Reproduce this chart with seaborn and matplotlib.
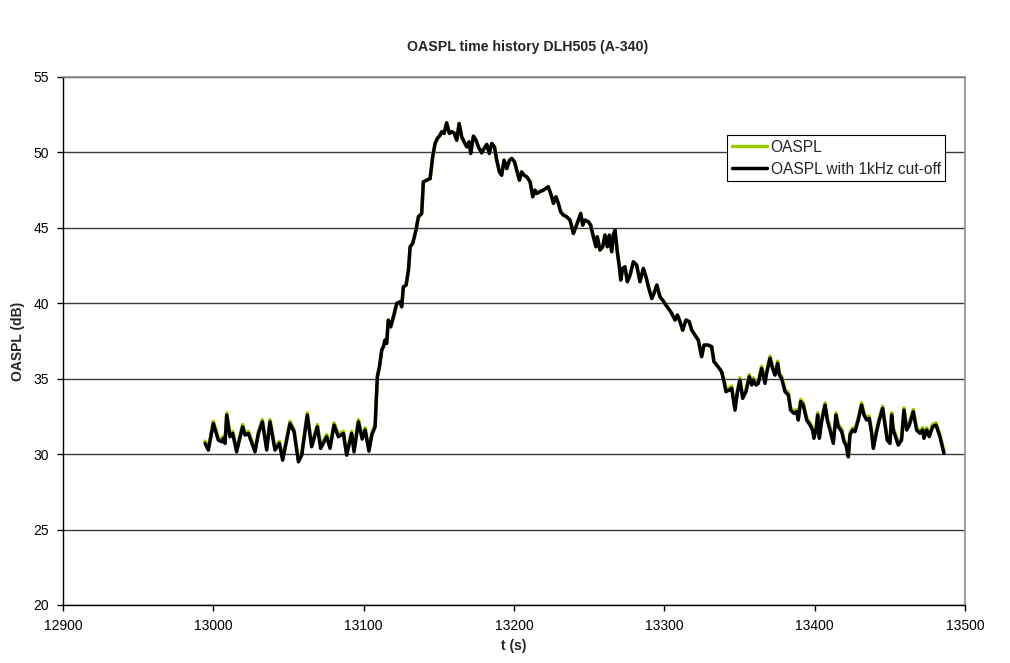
import matplotlib
matplotlib.use("Agg")
import matplotlib.pyplot as plt
import seaborn as sns
import pandas as pd

# Time stamps of the overflight record (s)
t_s = [
    12994.5, 12996.7, 13000.0, 13003.3, 13005.6, 13006.7, 13007.8, 13008.9, 13011.1, 13012.9,
    13015.5, 13017.3, 13019.5, 13021.1, 13023.3, 13027.7, 13030.0, 13032.6, 13035.5, 13037.7,
    13041.0, 13043.9, 13046.1, 13051.0, 13053.7, 13056.6, 13058.8, 13062.5, 13065.4, 13069.2,
    13071.4, 13075.4, 13077.6, 13080.3, 13083.2, 13086.5, 13088.7, 13092.0, 13093.6, 13096.5,
    13099.0, 13101.0, 13103.5, 13105.5, 13107.6,
    13109.1, 13110.5, 13112.0, 13113.1, 13114.2, 13115.3, 13116.4, 13118.0, 13119.8, 13122.0,
    13124.2, 13125.3, 13126.4, 13128.2, 13129.8, 13130.9, 13132.6, 13134.8, 13136.4, 13138.6,
    13139.7, 13141.9, 13144.2, 13145.9, 13147.5, 13149.0, 13150.8, 13151.9, 13153.5, 13155.2,
    13157.0, 13158.6, 13160.1, 13161.9, 13163.5, 13165.2, 13167.4, 13168.6, 13170.1, 13171.2,
    13173.0, 13174.8, 13176.3, 13178.5, 13180.1, 13181.9, 13183.6, 13185.2, 13187.0, 13188.5,
    13190.3, 13191.8, 13193.4, 13195.2, 13197.0, 13198.5, 13200.3, 13201.8, 13203.6, 13205.1,
    13206.7, 13208.5, 13210.7, 13212.5, 13214.0, 13215.1,
    13217.3, 13219.5, 13222.8, 13225.1, 13226.2, 13227.9, 13229.5, 13231.0, 13232.8, 13235.0,
    13237.3, 13239.5, 13241.2, 13242.8, 13244.4, 13245.7, 13247.2, 13249.5, 13251.0, 13252.8,
    13254.5, 13255.4, 13257.2, 13259.0, 13260.5, 13262.1, 13263.4, 13265.0, 13266.1, 13267.2,
    13268.7, 13270.1, 13271.0, 13272.3, 13273.8, 13275.4, 13277.2, 13279.4, 13281.6, 13283.8,
    13286.0, 13287.8, 13289.4, 13291.6, 13293.1, 13295.0, 13297.1, 13298.9, 13301.1, 13302.7,
    13304.9, 13307.1, 13308.7, 13310.4, 13312.2, 13314.4, 13316.6, 13318.2, 13320.4, 13322.6,
    13324.8, 13326.4, 13329.2, 13331.5, 13333.0, 13334.8, 13336.6, 13338.1,
    13339.7, 13341.0, 13343.2, 13344.8, 13347.0, 13348.5, 13350.3, 13352.1, 13354.3, 13356.5,
    13358.1, 13359.2, 13361.0, 13362.5, 13364.7, 13367.0, 13368.0, 13370.3, 13372.0, 13373.6,
    13375.4, 13376.5, 13378.0, 13380.3, 13382.5, 13384.0, 13386.2, 13388.0, 13389.1, 13390.7,
    13392.4, 13394.7, 13396.9, 13398.6, 13399.5, 13400.9, 13402.0, 13403.1, 13404.6, 13406.9,
    13408.4, 13410.2, 13412.4, 13414.2, 13415.7, 13418.0, 13419.5, 13420.8, 13422.4, 13423.5,
    13425.3, 13426.8, 13429.0, 13431.2, 13432.8, 13434.6, 13436.3, 13437.9, 13439.0, 13441.2,
    13443.0, 13445.2, 13446.8, 13448.3, 13450.1, 13451.2, 13452.3, 13454.1, 13455.6, 13457.8,
    13459.4, 13461.2, 13463.0, 13465.6, 13467.8, 13470.0, 13471.8, 13472.7, 13474.5, 13476.2,
    13478.5, 13480.7, 13483.3, 13486.0,
]

# Overall sound pressure level, full band (dB)
oaspl = [
    30.86, 30.42, 32.18, 31.08, 30.97, 31.19, 30.86, 32.74, 31.30, 31.52,
    30.30, 31.08, 31.96, 31.41, 31.52, 30.30, 31.52, 32.29, 30.42, 32.29,
    30.42, 30.86, 29.75, 32.18, 31.63, 29.64, 30.08, 32.74, 30.64, 31.96,
    30.53, 31.30, 30.53, 32.07, 31.30, 31.52, 30.08, 31.52, 30.30, 32.29,
    31.15, 31.75, 30.35, 31.45, 31.96,
    35.13, 35.79, 36.89, 37.11, 37.56, 37.34, 38.88, 38.44, 39.10, 39.99,
    40.10, 39.77, 41.09, 41.20, 42.20, 43.74, 43.96, 44.85, 45.73, 45.95,
    48.05, 48.16, 48.27, 49.71, 50.59, 50.92, 51.14, 51.37, 51.26, 51.96,
    51.26, 51.37, 51.30, 50.81, 51.92, 51.03, 50.59, 50.37, 50.70, 49.93,
    51.08, 50.81, 50.37, 49.97, 50.26, 50.53, 49.93, 50.59, 50.37, 49.49,
    48.71, 48.49, 49.49, 48.93, 49.49, 49.60, 49.38, 48.82, 48.16, 48.71,
    48.49, 48.38, 48.05, 47.06, 47.50, 47.28,
    47.40, 47.50, 47.72, 47.06, 46.62, 47.06, 46.62, 46.07, 45.85, 45.74,
    45.51, 44.63, 45.07, 45.51, 45.96, 45.18, 45.51, 45.40, 45.18, 44.41,
    43.75, 44.41, 43.53, 43.75, 44.52, 43.75, 44.52, 43.42, 44.52, 44.85,
    43.42, 42.42, 41.54, 42.31, 42.42, 41.43, 41.87, 42.75, 42.53, 41.43,
    42.31, 41.76, 41.10, 40.32, 40.65, 41.21, 40.43, 40.21, 39.88, 39.66,
    39.33, 38.89, 39.22, 38.78, 38.22, 38.89, 38.78, 38.22, 37.89, 37.56,
    36.46, 37.23, 37.23, 37.12, 36.13, 35.91, 35.68, 35.46,
    34.95, 34.29, 34.40, 34.51, 33.07, 34.18, 35.06, 33.85, 34.29, 35.28,
    34.73, 35.06, 34.73, 34.84, 35.83, 34.84, 35.50, 36.50, 35.83, 35.39,
    36.17, 35.39, 35.17, 34.29, 34.07, 33.07, 32.85, 32.96, 32.41, 33.63,
    33.40, 32.41, 32.08, 31.75, 31.20, 31.75, 32.74, 31.20, 32.30, 33.40,
    32.41, 31.75, 30.86, 32.74, 31.97, 31.64, 30.97, 30.75, 29.97, 31.42,
    31.75, 31.64, 32.41, 33.40, 32.74, 32.41, 32.52, 31.53, 30.53, 31.64,
    32.41, 33.18, 32.08, 31.08, 30.86, 32.74, 31.75, 31.20, 30.75, 31.08,
    33.07, 31.75, 32.08, 32.96, 31.75, 31.53, 31.75, 31.20, 31.75, 31.31,
    31.97, 32.08, 31.31, 30.20,
]

# Overall sound pressure level with 1 kHz cut-off (dB)
oaspl_1khz = [
    30.71, 30.27, 32.03, 30.93, 30.82, 31.04, 30.71, 32.59, 31.15, 31.37,
    30.15, 30.93, 31.81, 31.26, 31.37, 30.15, 31.37, 32.14, 30.27, 32.14,
    30.27, 30.71, 29.60, 32.03, 31.48, 29.49, 29.93, 32.59, 30.49, 31.81,
    30.38, 31.15, 30.38, 31.92, 31.15, 31.37, 29.93, 31.37, 30.15, 32.14,
    31.00, 31.60, 30.20, 31.30, 31.81,
    35.13, 35.79, 36.89, 37.11, 37.56, 37.34, 38.88, 38.44, 39.10, 39.99,
    40.10, 39.77, 41.09, 41.20, 42.20, 43.74, 43.96, 44.85, 45.73, 45.95,
    48.05, 48.16, 48.27, 49.71, 50.59, 50.92, 51.14, 51.37, 51.26, 51.96,
    51.26, 51.37, 51.30, 50.81, 51.92, 51.03, 50.59, 50.37, 50.70, 49.93,
    51.08, 50.81, 50.37, 49.97, 50.26, 50.53, 49.93, 50.59, 50.37, 49.49,
    48.71, 48.49, 49.49, 48.93, 49.49, 49.60, 49.38, 48.82, 48.16, 48.71,
    48.49, 48.38, 48.05, 47.06, 47.50, 47.28,
    47.40, 47.50, 47.72, 47.06, 46.62, 47.06, 46.62, 46.07, 45.85, 45.74,
    45.51, 44.63, 45.07, 45.51, 45.96, 45.18, 45.51, 45.40, 45.18, 44.41,
    43.75, 44.41, 43.53, 43.75, 44.52, 43.75, 44.52, 43.42, 44.52, 44.85,
    43.42, 42.42, 41.54, 42.31, 42.42, 41.43, 41.87, 42.75, 42.53, 41.43,
    42.31, 41.76, 41.10, 40.32, 40.65, 41.21, 40.43, 40.21, 39.88, 39.66,
    39.33, 38.89, 39.22, 38.78, 38.22, 38.89, 38.78, 38.22, 37.89, 37.56,
    36.46, 37.23, 37.23, 37.12, 36.13, 35.91, 35.68, 35.46,
    34.80, 34.14, 34.25, 34.36, 32.92, 34.03, 34.91, 33.70, 34.14, 35.13,
    34.58, 34.91, 34.58, 34.69, 35.68, 34.69, 35.35, 36.35, 35.68, 35.24,
    36.02, 35.24, 35.02, 34.14, 33.92, 32.92, 32.70, 32.81, 32.26, 33.48,
    33.25, 32.26, 31.93, 31.60, 31.05, 31.60, 32.59, 31.05, 32.15, 33.25,
    32.26, 31.60, 30.71, 32.59, 31.82, 31.49, 30.82, 30.60, 29.82, 31.27,
    31.60, 31.49, 32.26, 33.25, 32.59, 32.26, 32.37, 31.38, 30.38, 31.49,
    32.26, 33.03, 31.93, 30.93, 30.71, 32.59, 31.60, 31.05, 30.60, 30.93,
    32.92, 31.60, 31.93, 32.81, 31.60, 31.38, 31.60, 31.05, 31.60, 31.16,
    31.82, 31.93, 31.16, 30.05,
]

series_names = ["OASPL", "OASPL with 1kHz cut-off"]
series_colors = ["#99CC00", "#000000"]

x_ticks = [12900, 13000, 13100, 13200, 13300, 13400, 13500]
y_ticks = [20, 25, 30, 35, 40, 45, 50, 55]

df = pd.concat([
    pd.DataFrame({"t": t_s, "level": oaspl, "series": series_names[0]}),
    pd.DataFrame({"t": t_s, "level": oaspl_1khz, "series": series_names[1]}),
], ignore_index=True)

sns.set_theme(style="white")
plt.rcParams["font.family"] = ["Liberation Sans", "DejaVu Sans"]

fig = plt.figure(figsize=(10.10, 6.63), dpi=100)
ax = fig.add_axes([63 / 1010, 58 / 663, 902 / 1010, 528 / 663])

sns.lineplot(
    data=df, x="t", y="level", hue="series", hue_order=series_names,
    palette=series_colors, estimator=None, sort=False, linewidth=2.5,
    ax=ax, legend=False,
)

ax.set_xlim(x_ticks[0], x_ticks[-1])
ax.set_ylim(y_ticks[0], y_ticks[-1])
ax.set_xticks(x_ticks)
ax.set_yticks(y_ticks)
ax.tick_params(axis="both", labelsize=10, colors="black", direction="out",
               length=4, width=1, pad=6)
ax.tick_params(axis="both", which="both", bottom=True, left=True)

# horizontal major gridlines
ax.yaxis.grid(True, color="#3a3a3a", linewidth=1.0)
ax.xaxis.grid(False)
ax.set_axisbelow(True)

for side in ["left", "bottom"]:
    ax.spines[side].set_color("black")
    ax.spines[side].set_linewidth(1.0)
for side in ["top", "right"]:
    ax.spines[side].set_color("#8c8c8c")
    ax.spines[side].set_linewidth(1.2)

ax.set_xlabel("")
ax.set_ylabel("")
fig.text(528 / 1010, 1 - 47 / 663, "OASPL time history DLH505 (A-340)",
         ha="center", va="center", fontsize=10.2, fontweight="bold")
fig.text(514 / 1010, 1 - 646 / 663, "t (s)", ha="center", va="center",
         fontsize=10, fontweight="bold")
fig.text(18 / 1010, 1 - 341 / 663, "OASPL (dB)", ha="center", va="center",
         rotation=90, fontsize=10, fontweight="bold")

handles = [
    plt.Line2D([], [], color=series_colors[0], linewidth=2.5),
    plt.Line2D([], [], color=series_colors[1], linewidth=2.5),
]
leg = fig.legend(
    handles, series_names, loc="upper left",
    bbox_to_anchor=(727 / 1010, 1 - 135 / 663),
    frameon=True, fancybox=False, edgecolor="black", framealpha=1,
    fontsize=11.2, handlelength=2.25, handletextpad=0.25,
    borderpad=0.3, labelspacing=0.45, borderaxespad=0,
)
leg.get_frame().set_linewidth(0.8)

fig.savefig("out.png", dpi=100)
